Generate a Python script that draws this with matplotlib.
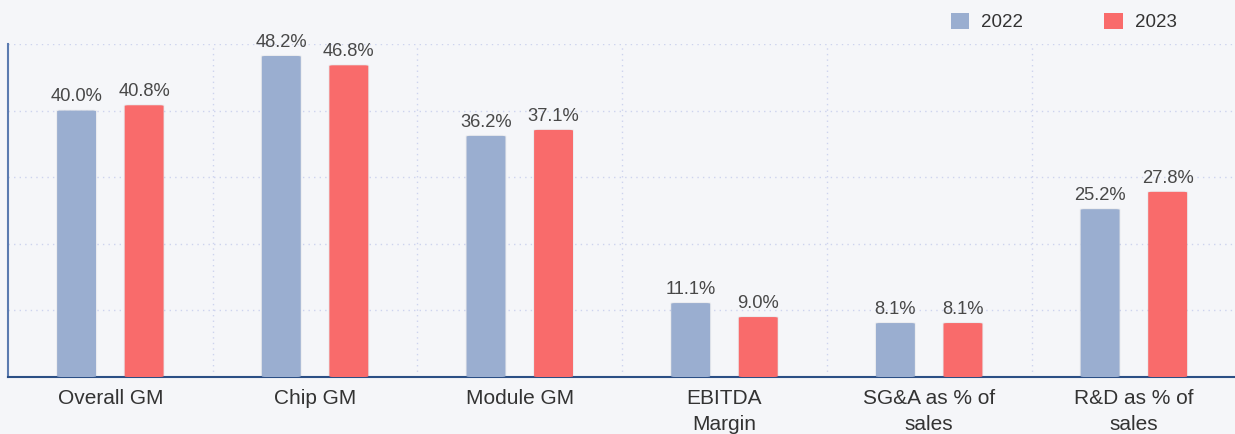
import numpy as np
import matplotlib.pyplot as plt
from matplotlib.patches import FancyBboxPatch

# --- Data ---
categories = ['Overall GM', 'Chip GM', 'Module GM', 'EBITDA\nMargin',
              'SG&A as % of\nsales', 'R&D as % of\nsales']
vals_2022 = [40.0, 48.2, 36.2, 11.1, 8.1, 25.2]
vals_2023 = [40.8, 46.8, 37.1, 9.0, 8.1, 27.8]
series_names = ['2022', '2023']

# --- Style ---
BG = '#f5f6f9'
C2022 = '#9aaed0'
C2023 = '#f96b6b'
GRID = '#cdd3ee'
TXT = '#333333'
plt.rcParams['font.family'] = ['Liberation Sans', 'DejaVu Sans']

fig = plt.figure(figsize=(12.35, 4.34), dpi=100, facecolor=BG)
ax = fig.add_axes([8 / 1235, 1 - 377 / 434, 1 - 8 / 1235 + 0.001, (377 - 44) / 434])
ax.set_facecolor(BG)

x = np.arange(len(categories))
width = 0.19
offset = 0.165


def rounded_bars(xs, vals, color):
    for xi, v in zip(xs, vals):
        # soft shadow
        ax.add_patch(FancyBboxPatch((xi - width / 2, 0), width, v,
                                    boxstyle='round,pad=0,rounding_size=0.02',
                                    mutation_aspect=5, fc='#000000', alpha=0.04,
                                    ec='#000000', lw=1.5, zorder=2))
        ax.add_patch(FancyBboxPatch((xi - width / 2, 0), width, v,
                                    boxstyle='round,pad=0,rounding_size=0.02',
                                    mutation_aspect=5, fc=color, ec='none', zorder=3))
        ax.text(xi, v + 0.8, f'{v:.1f}%', ha='center', va='bottom',
                fontsize=13.2, color='#484848', zorder=4)


rounded_bars(x - offset, vals_2022, C2022)
rounded_bars(x + offset, vals_2023, C2023)

ax.set_xlim(-0.5, len(categories) - 0.5)
ax.set_ylim(0, 50)

# grid
ax.set_yticks([10, 20, 30, 40, 50])
ax.set_yticklabels([])
ax.tick_params(axis='y', length=0)
ax.set_xticks(x)
ax.set_xticklabels(categories, fontsize=15, color=TXT, linespacing=1.42, va='top')
ax.tick_params(axis='x', length=0, pad=9)
ax.set_xticks(np.arange(0.5, len(categories) - 0.5, 1), minor=True)
ax.tick_params(axis='x', which='minor', length=0)
ax.grid(axis='y', which='major', color=GRID, linestyle=(0, (1, 3)), linewidth=1, zorder=0)
ax.grid(axis='x', which='minor', color=GRID, linestyle=(0, (1, 3)), linewidth=1, zorder=0)
ax.set_axisbelow(True)

for s in ['top', 'right']:
    ax.spines[s].set_visible(False)
ax.spines['left'].set_color('#5b7bb0')
ax.spines['left'].set_linewidth(1.5)
ax.spines['bottom'].set_color('#2b4f85')
ax.spines['bottom'].set_linewidth(1.5)

# legend
handles = [plt.Rectangle((0, 0), 1, 1, fc=C2022), plt.Rectangle((0, 0), 1, 1, fc=C2023)]
fig.legend(handles, series_names, loc='upper left', bbox_to_anchor=(943 / 1235, 1 - 5 / 434),
           ncol=2, frameon=False, fontsize=13.5, handlelength=1.0, handleheight=1.0,
           columnspacing=4.3, handletextpad=0.65, labelcolor=TXT, borderaxespad=0)

fig.savefig('out.png', dpi=100, facecolor=BG)
